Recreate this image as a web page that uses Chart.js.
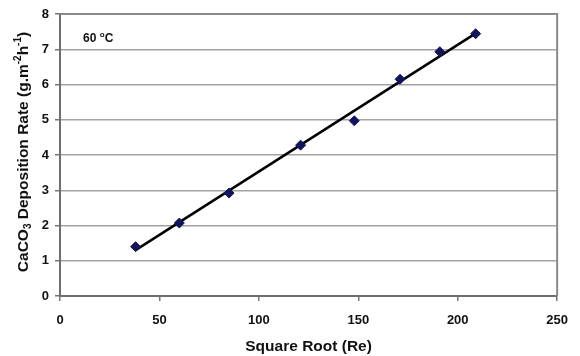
<!DOCTYPE html>
<html>
<head>
<meta charset="utf-8">
<script src="https://cdn.jsdelivr.net/npm/chart.js@4.4.1/dist/chart.umd.min.js"></script>
<style>
  html, body { margin: 0; padding: 0; background: #fff; }
  #wrap { width: 580px; height: 356px; }
</style>
</head>
<body>
<div id="wrap"><canvas id="chart" width="580" height="356"></canvas></div>
<script>
const sqrtRe = [38, 60, 85, 121, 148, 171, 191, 209];
const depRate = [1.40, 2.07, 2.92, 4.28, 4.97, 6.15, 6.93, 7.44];
// trend line end points
const fitX = [38, 209];
const fitY = [1.30, 7.45];
const xTicks = [0, 50, 100, 150, 200, 250];
const yTicks = [0, 1, 2, 3, 4, 5, 6, 7, 8];

const FONT = "'Liberation Sans', Arial, sans-serif";

// y title needs sub/superscripts so it is drawn by hand
const yTitleParts = [
    { t: "CaCO", k: "" },
    { t: "3", k: "sub" },
    { t: " Deposition Rate (g.m", k: "" },
    { t: "-2", k: "sup" },
    { t: "h", k: "" },
    { t: "-1", k: "sup" },
    { t: ")", k: "" },
];

const extras = {
    id: "extras",
    beforeDatasetsDraw(chart) {
        const { ctx, chartArea: a } = chart;
        ctx.save();
        ctx.strokeStyle = "#8a8a8a";
        ctx.lineWidth = 2;
        ctx.beginPath();
        ctx.moveTo(a.left, a.top);
        ctx.lineTo(a.right, a.top);
        ctx.lineTo(a.right, a.bottom);
        ctx.stroke();
        ctx.restore();
    },
    afterDraw(chart) {
        const { ctx, scales: { x, y } } = chart;
        ctx.save();
        ctx.fillStyle = "#111";

        // temperature label
        const tx = x.getPixelForValue(11.6), ty = y.getPixelForValue(7.3);
        ctx.font = "bold 12px " + FONT;
        ctx.textBaseline = "middle";
        ctx.textAlign = "left";
        ctx.fillText("60 ", tx, ty);
        const w60 = ctx.measureText("60 ").width;
        ctx.font = "bold 8px " + FONT;
        ctx.fillText("o", tx + w60, ty - 4);
        const wo = ctx.measureText("o").width;
        ctx.font = "bold 12px " + FONT;
        ctx.fillText("C", tx + w60 + wo, ty);

        // rotated y title
        const big = "bold 15.5px " + FONT;
        const small = "bold 10px " + FONT;
        let total = 0;
        yTitleParts.forEach(p => {
            ctx.font = p.k ? small : big;
            p.w = ctx.measureText(p.t).width;
            total += p.w;
        });
        ctx.translate(22, 152);
        ctx.rotate(-Math.PI / 2);
        ctx.textAlign = "left";
        ctx.textBaseline = "alphabetic";
        let cx = -total / 2;
        yTitleParts.forEach(p => {
            ctx.font = p.k ? small : big;
            const dy = p.k === "sub" ? 3 : p.k === "sup" ? -7 : 0;
            ctx.fillText(p.t, cx, 6 + dy);
            cx += p.w;
        });
        ctx.restore();
    },
};

new Chart(document.getElementById("chart"), {
    type: "scatter",
    data: {
        datasets: [
            {
                label: "data",
                data: sqrtRe.map((v, i) => ({ x: v, y: depRate[i] })),
                pointStyle: "rectRot",
                pointRadius: 5,
                backgroundColor: "#14145c",
                borderColor: "#14145c",
                borderWidth: 1,
            },
            {
                type: "line",
                label: "fit",
                data: fitX.map((v, i) => ({ x: v, y: fitY[i] })),
                borderColor: "#000",
                borderWidth: 2.5,
                pointRadius: 0,
                fill: false,
            },
        ],
    },
    options: {
        responsive: false,
        animation: false,
        devicePixelRatio: 1,
        layout: { padding: { top: 14, right: 14, left: 0, bottom: 0 } },
        plugins: { legend: { display: false }, tooltip: { enabled: false } },
        scales: {
            x: {
                type: "linear",
                min: 0,
                max: 250,
                afterBuildTicks: s => { s.ticks = xTicks.map(v => ({ value: v })); },
                afterFit: s => { s.height = 60; },
                ticks: {
                    color: "#111",
                    font: { family: FONT, size: 13, weight: "bold" },
                    padding: 12,
                },
                grid: {
                    drawOnChartArea: false,
                    drawTicks: true,
                    tickLength: 5,
                    tickColor: "#777",
                    lineWidth: 1.5,
                },
                border: { color: "#6e6e6e", width: 2 },
                title: {
                    display: true,
                    text: "Square Root (Re)",
                    color: "#111",
                    font: { family: FONT, size: 15.5, weight: "bold" },
                    padding: { top: 0, bottom: 0 },
                },
            },
            y: {
                type: "linear",
                min: 0,
                max: 8,
                afterBuildTicks: s => { s.ticks = yTicks.map(v => ({ value: v })); },
                afterFit: s => { s.width = 60; },
                ticks: {
                    color: "#111",
                    font: { family: FONT, size: 13, weight: "bold" },
                    padding: 6,
                },
                grid: {
                    color: "#a3a3a3",
                    lineWidth: 1.5,
                    tickLength: 5,
                    tickColor: "#777",
                },
                border: { color: "#6e6e6e", width: 2 },
            },
        },
    },
    plugins: [extras],
});
</script>
</body>
</html>
